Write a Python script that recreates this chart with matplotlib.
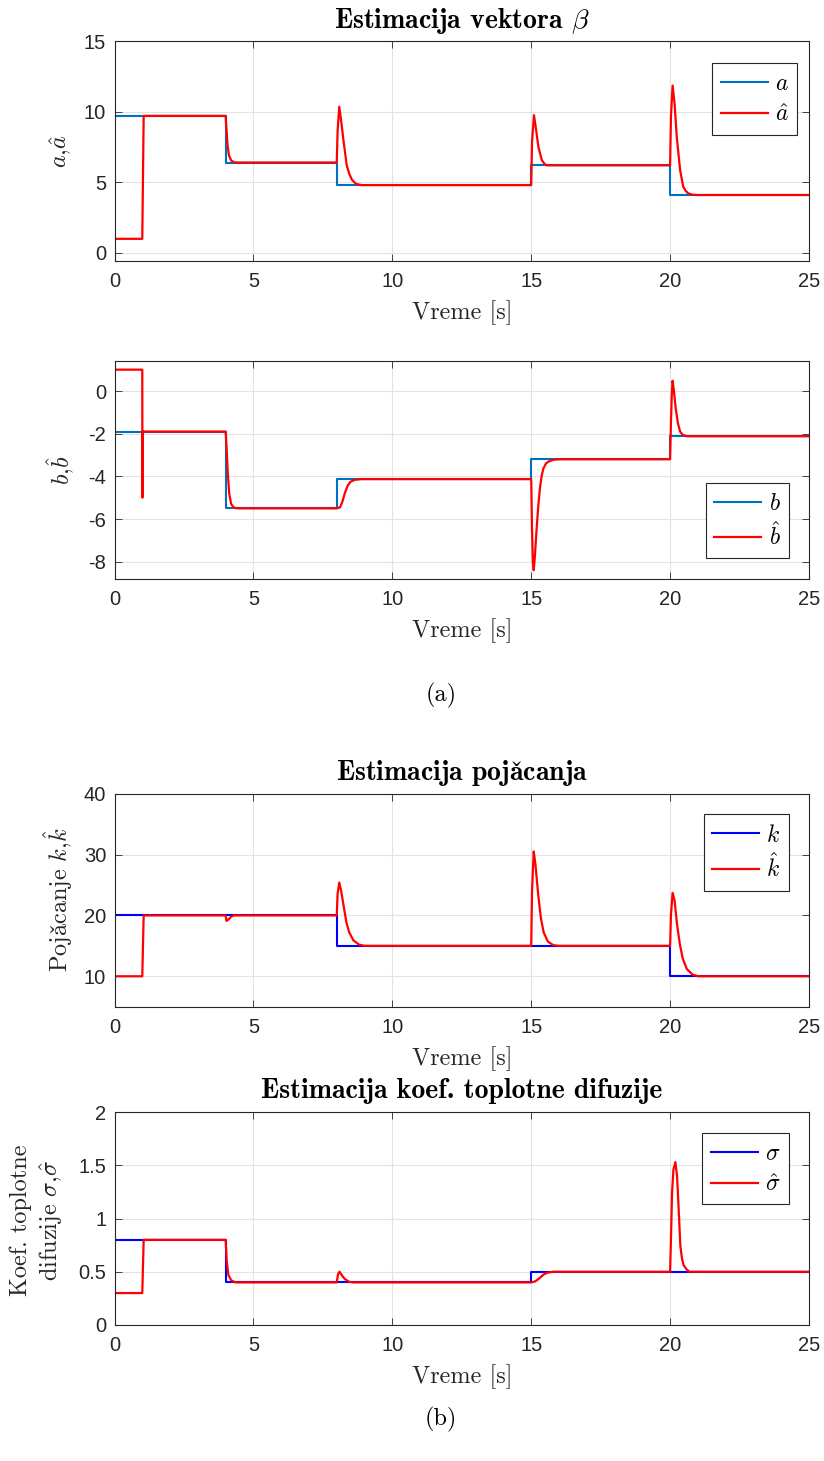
import matplotlib
matplotlib.use("Agg")
import matplotlib.pyplot as plt

plt.rcParams['mathtext.fontset'] = 'cm'
plt.rcParams['axes.unicode_minus'] = False

# ---------------- data ----------------
# true parameter a (step changes)
a_t = [0, 4, 8, 15, 20, 25]
a_v = [9.7, 6.4, 4.8, 6.2, 4.1, 4.1]
# estimate a-hat
ahat_t = [0, 1.0, 1.05, 4.0, 4.03, 4.07, 4.12, 4.2, 4.3, 4.4,
          8.0, 8.03, 8.09, 8.15, 8.24, 8.36, 8.45, 8.55, 8.7, 8.9,
          15.0, 15.03, 15.1, 15.17, 15.26, 15.38, 15.48, 15.56, 15.7,
          20.0, 20.03, 20.09, 20.16, 20.24, 20.36, 20.47, 20.56, 20.65, 20.8, 21.0, 25]
ahat_v = [1.0, 1.0, 9.7, 9.7, 8.8, 7.6, 6.9, 6.55, 6.42, 6.4,
          6.4, 8.6, 10.35, 9.5, 8.0, 6.2, 5.6, 5.17, 4.88, 4.8,
          4.8, 7.9, 9.75, 8.8, 7.5, 6.58, 6.3, 6.2, 6.2,
          6.2, 9.6, 11.85, 10.6, 8.2, 5.87, 4.7, 4.4, 4.22, 4.12, 4.1, 4.1]

# true parameter b
b_t = [0, 4, 8, 15, 20, 25]
b_v = [-1.9, -5.5, -4.13, -3.2, -2.12, -2.12]
bhat_t = [0, 1.0, 1.005, 1.012, 4.0, 4.04, 4.08, 4.13, 4.2, 4.3, 4.45,
          8.0, 8.12, 8.2, 8.3, 8.4, 8.5, 8.65, 8.9,
          15.0, 15.03, 15.06, 15.09, 15.13, 15.2, 15.26, 15.32, 15.38, 15.44, 15.53, 15.62, 15.8, 16.0,
          20.0, 20.03, 20.06, 20.09, 20.13, 20.2, 20.28, 20.36, 20.45, 20.6, 25]
bhat_v = [1.0, 1.0, -5.0, -1.9, -1.9, -2.8, -3.9, -4.8, -5.3, -5.47, -5.5,
          -5.5, -5.45, -5.2, -4.75, -4.42, -4.25, -4.16, -4.13,
          -4.13, -6.5, -8.0, -8.4, -7.8, -6.36, -5.3, -4.49, -3.95, -3.63, -3.4, -3.31, -3.22, -3.2,
          -3.2, -1.5, -0.2, 0.48, 0.1, -0.8, -1.5, -1.9, -2.05, -2.12, -2.12]

# true gain k
k_t = [0, 8, 20, 25]
k_v = [20, 15, 10, 10]
khat_t = [0, 1.0, 1.05, 4.0, 4.03, 4.1, 4.2, 4.3,
          8.0, 8.03, 8.09, 8.16, 8.25, 8.35, 8.45, 8.6, 8.8, 9.0,
          15.0, 15.03, 15.09, 15.15, 15.25, 15.35, 15.45, 15.6, 15.8, 16.0,
          20.0, 20.03, 20.09, 20.16, 20.25, 20.35, 20.45, 20.6, 20.8, 21.0, 25]
khat_v = [10, 10, 20, 20, 19.1, 19.3, 19.8, 20,
          20, 23.5, 25.4, 24.0, 21.5, 18.8, 17.2, 15.9, 15.2, 15,
          15, 24, 30.5, 28.5, 23.5, 19.5, 17.2, 15.7, 15.1, 15,
          15, 20, 23.7, 22.5, 18.5, 15.3, 13, 11.2, 10.3, 10, 10]

# true heat diffusion coefficient sigma
s_t = [0, 4, 15, 25]
s_v = [0.8, 0.4, 0.5, 0.5]
shat_t = [0, 1.0, 1.05, 4.0, 4.04, 4.1, 4.2, 4.35,
          8.0, 8.05, 8.1, 8.2, 8.3, 8.45, 8.6,
          15.0, 15.15, 15.3, 15.45, 15.6, 15.8,
          20.0, 20.03, 20.07, 20.12, 20.19, 20.25, 20.31, 20.37, 20.43, 20.49, 20.6, 20.7, 25]
shat_v = [0.3, 0.3, 0.8, 0.8, 0.6, 0.47, 0.42, 0.4,
          0.4, 0.48, 0.5, 0.46, 0.43, 0.405, 0.4,
          0.4, 0.41, 0.44, 0.475, 0.492, 0.5,
          0.5, 0.8, 1.24, 1.46, 1.53, 1.4, 1.08, 0.74, 0.62, 0.56, 0.52, 0.5, 0.5]

# ---------------- figure ----------------
W, H = 824, 1461
fig = plt.figure(figsize=(W / 100, H / 100), dpi=100)

AX_L, AX_R = 114.5, 809
panels = [(41, 261), (360.7, 579), (793.7, 1006.7), (1112, 1325)]

dark = '#262626'
mblue = '#0072BD'
red = '#FF0000'
tick_fs = 14.5
lab_fs = 17.5
title_fs = 20

def make_ax(top, bot):
    ax = fig.add_axes([AX_L / W, 1 - bot / H, (AX_R - AX_L) / W, (bot - top) / H])
    for s in ax.spines.values():
        s.set_color(dark)
        s.set_linewidth(0.8)
    ax.tick_params(direction='in', top=True, right=True, length=5, width=0.6,
                   colors=dark, labelsize=tick_fs, pad=6)
    ax.tick_params(axis='x', pad=8)
    ax.grid(True, color='#e3e3e3', linewidth=0.8)
    ax.set_axisbelow(True)
    ax.set_xlim(0, 25)
    ax.set_xticks([0, 5, 10, 15, 20, 25])
    return ax

def sans_ticks(ax):
    for lab in ax.get_xticklabels() + ax.get_yticklabels():
        lab.set_fontfamily('Liberation Sans')

def legend(ax, loc, anchor, labels):
    lg = ax.legend(labels, loc=loc, bbox_to_anchor=anchor, borderaxespad=0,
                   fancybox=False, framealpha=1, edgecolor=dark, fontsize=17,
                   handlelength=2.0, handletextpad=0.3, borderpad=0.35, labelspacing=0.3)
    lg.get_frame().set_linewidth(0.8)
    return lg

xc = (AX_L + AX_R) / 2 / W

def ftext(x_px, y_px, s, **kw):
    return fig.text(x_px / W, 1 - y_px / H, s, **kw)

# Panel 1
ax1 = make_ax(*panels[0])
ax1.plot(a_t, a_v, drawstyle='steps-post', color=mblue, lw=1.5)
ax1.plot(ahat_t, ahat_v, color=red, lw=1.6)
ax1.set_ylim(-0.57, 15)
ax1.set_yticks([0, 5, 10, 15])
sans_ticks(ax1)
legend(ax1, 'upper right', (0.9827, 0.9), [r'$a$', r'$\hat{a}$'])

# Panel 2
ax2 = make_ax(*panels[1])
ax2.plot(b_t, b_v, drawstyle='steps-post', color=mblue, lw=1.5)
ax2.plot(bhat_t, bhat_v, color=red, lw=1.6)
ax2.set_ylim(-8.81, 1.42)
ax2.set_yticks([-8, -6, -4, -2, 0])
sans_ticks(ax2)
legend(ax2, 'lower right', (0.9708, 0.0948), [r'$b$', r'$\hat{b}$'])

# Panel 3
ax3 = make_ax(*panels[2])
ax3.plot(k_t, k_v, drawstyle='steps-post', color='#0000FF', lw=1.5)
ax3.plot(khat_t, khat_v, color=red, lw=1.6)
ax3.set_ylim(5, 40)
ax3.set_yticks([10, 20, 30, 40])
sans_ticks(ax3)
legend(ax3, 'upper right', (0.9708, 0.903), [r'$k$', r'$\hat{k}$'])

# Panel 4
ax4 = make_ax(*panels[3])
ax4.plot(s_t, s_v, drawstyle='steps-post', color='#0000FF', lw=1.5)
ax4.plot(shat_t, shat_v, color=red, lw=1.6)
ax4.set_ylim(0, 2)
ax4.set_yticks([0, 0.5, 1, 1.5, 2])
ax4.set_yticklabels(['0', '0.5', '1', '1.5', '2'])
sans_ticks(ax4)
legend(ax4, 'upper right', (0.9708, 0.903), [r'$\sigma$', r'$\hat{\sigma}$'])

# titles
ftext(xc * W, 27.5, r'Estimacija vektora $\beta$', ha='center', va='baseline',
      fontsize=title_fs, family='cmb10')
ftext(xc * W, 780, r'Estimacija poja$\check{\mathbf{c}}$anja', ha='center', va='baseline',
      fontsize=title_fs, family='cmb10')
ftext(xc * W, 1098.5, r'Estimacija koef. toplotne difuzije', ha='center', va='baseline',
      fontsize=title_fs, family='cmb10')

# x labels
for (top, bot) in panels:
    ftext(xc * W, bot + 58, 'Vreme [s]', ha='center', va='baseline',
          fontsize=lab_fs, family='cmr10', color=dark)

# y labels
ftext(61, 151, r'$a$,$\hat{a}$', ha='center', va='center', rotation=90,
      fontsize=lab_fs, family='cmr10', color=dark)
ftext(61, 470, r'$b$,$\hat{b}$', ha='center', va='center', rotation=90,
      fontsize=lab_fs, family='cmr10', color=dark)
ftext(58, 900, r'Poja$\check{\mathrm{c}}$anje $k$,$\hat{k}$', ha='center', va='center',
      rotation=90, fontsize=lab_fs, family='cmr10', color=dark)
ftext(37, 1220, 'Koef. toplotne\n' + r'difuzije $\sigma$,$\hat{\sigma}$', ha='center',
      va='center', rotation=90, fontsize=lab_fs, family='cmr10', color=dark,
      multialignment='center', linespacing=1.25)

# sub-figure captions
ftext(441, 695, '(a)', ha='center', va='center', fontsize=lab_fs, family='cmr10')
ftext(441, 1419, '(b)', ha='center', va='center', fontsize=lab_fs, family='cmr10')

fig.savefig('out.png', dpi=100)
